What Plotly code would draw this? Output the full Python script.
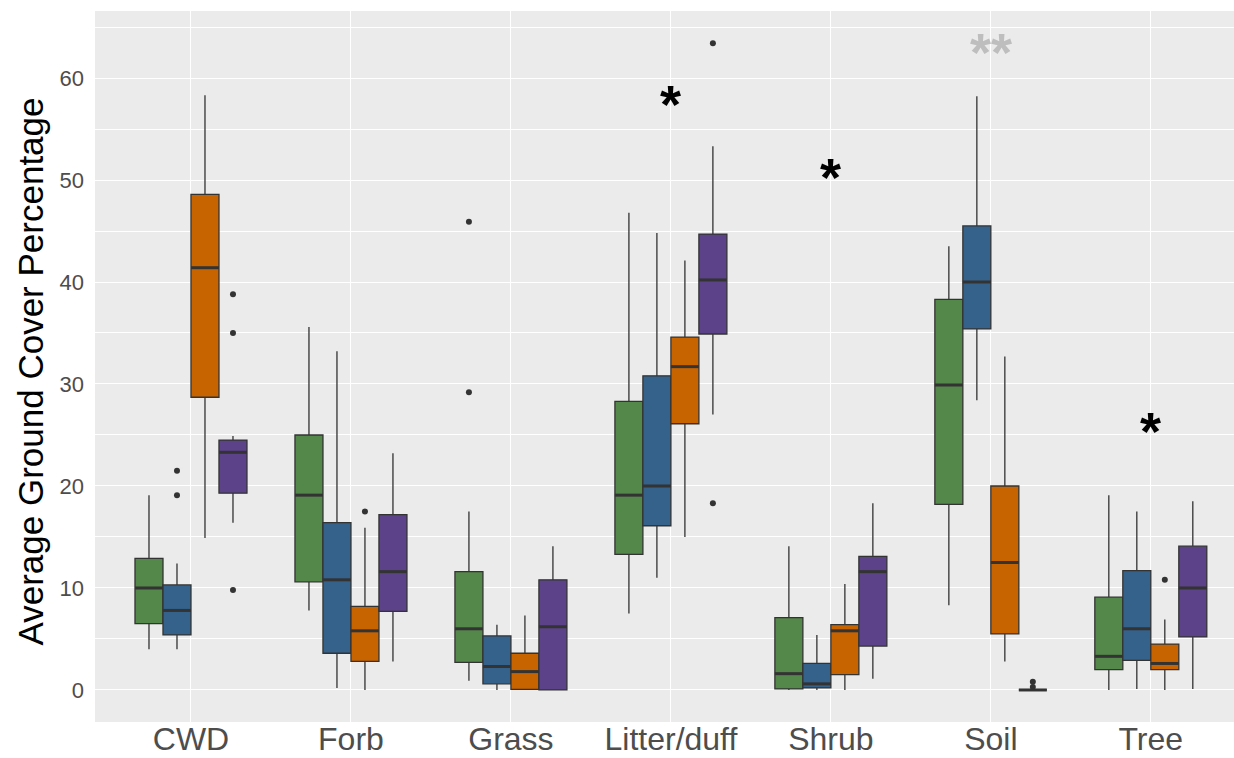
import plotly.graph_objects as go

categories = ["CWD", "Forb", "Grass", "Litter/duff", "Shrub", "Soil", "Tree"]
group_names = ["Group 1", "Group 2", "Group 3", "Group 4"]
group_colors = ["#54874A", "#34628B", "#C86400", "#5B4289"]

# box statistics per group (one value per category)
green_lower = [4.0, 7.8, 0.9, 7.5, 0.0, 8.3, 0.0]
green_q1 = [6.5, 10.6, 2.7, 13.3, 0.1, 18.2, 2.0]
green_median = [10.0, 19.1, 6.0, 19.1, 1.6, 29.9, 3.3]
green_q3 = [12.9, 25.0, 11.6, 28.3, 7.1, 38.3, 9.1]
green_upper = [19.1, 35.6, 17.5, 46.8, 14.1, 43.5, 19.1]
green_outliers = [[], [], [45.9, 29.2], [], [], [], []]

blue_lower = [4.0, 0.2, 0.0, 11.0, 0.0, 28.4, 0.1]
blue_q1 = [5.4, 3.6, 0.6, 16.1, 0.2, 35.4, 2.9]
blue_median = [7.8, 10.8, 2.3, 20.0, 0.6, 40.0, 6.0]
blue_q3 = [10.3, 16.4, 5.3, 30.8, 2.6, 45.5, 11.7]
blue_upper = [12.4, 33.2, 6.4, 44.8, 5.4, 58.2, 17.5]
blue_outliers = [[21.5, 19.1], [], [], [], [], [], []]

orange_lower = [14.9, 0.0, 0.0, 15.0, 0.0, 2.8, 0.0]
orange_q1 = [28.7, 2.8, 0.05, 26.1, 1.5, 5.5, 2.0]
orange_median = [41.4, 5.8, 1.8, 31.7, 5.8, 12.5, 2.6]
orange_q3 = [48.6, 8.2, 3.6, 34.6, 6.4, 20.0, 4.5]
orange_upper = [58.3, 15.9, 7.3, 42.1, 10.4, 32.7, 6.9]
orange_outliers = [[], [17.5], [], [], [], [], [10.8]]

purple_lower = [16.4, 2.8, 0.0, 27.0, 1.1, 0.0, 0.1]
purple_q1 = [19.3, 7.7, 0.0, 34.9, 4.3, 0.0, 5.2]
purple_median = [23.3, 11.6, 6.2, 40.2, 11.6, 0.0, 10.0]
purple_q3 = [24.5, 17.2, 10.8, 44.7, 13.1, 0.0, 14.1]
purple_upper = [24.9, 23.2, 14.1, 53.3, 18.3, 0.0, 18.5]
purple_outliers = [[38.8, 35.0, 9.8], [], [], [63.4, 18.3], [], [0.8, 0.3], []]

# significance labels
sig_categories = ["Litter/duff", "Shrub", "Soil", "Tree"]
sig_labels = ["*", "*", "**", "*"]
sig_y = [58.1, 51.0, 63.2, 26.1]
sig_colors = ["black", "black", "#BEBEBE", "black"]

y_ticks = [0, 10, 20, 30, 40, 50, 60]

groups = [
    (green_lower, green_q1, green_median, green_q3, green_upper, green_outliers),
    (blue_lower, blue_q1, blue_median, blue_q3, blue_upper, blue_outliers),
    (orange_lower, orange_q1, orange_median, orange_q3, orange_upper, orange_outliers),
    (purple_lower, purple_q1, purple_median, purple_q3, purple_upper, purple_outliers),
]

dodge = 0.7
n_groups = len(groups)
box_w = dodge / n_groups
line_col = "#333333"

fig = go.Figure()
for gi, (lo, q1, med, q3, up, outl) in enumerate(groups):
    offset = -dodge / 2 + box_w * (gi + 0.5)
    xs = [ci + offset for ci in range(len(categories))]
    fig.add_trace(go.Box(
        x=xs, q1=q1, median=med, q3=q3, lowerfence=lo, upperfence=up,
        width=box_w, fillcolor=group_colors[gi],
        line=dict(color=line_col, width=1.3), whiskerwidth=0,
        boxpoints=False, name=group_names[gi], showlegend=False,
        hoverinfo="skip",
    ))
    # thicker median lines (ggplot style)
    mx, my = [], []
    for x0, m in zip(xs, med):
        mx += [x0 - box_w / 2, x0 + box_w / 2, None]
        my += [m, m, None]
    fig.add_trace(go.Scatter(x=mx, y=my, mode="lines",
                             line=dict(color=line_col, width=3),
                             showlegend=False, hoverinfo="skip"))
    ox, oy = [], []
    for x0, vals in zip(xs, outl):
        for v in vals:
            ox.append(x0)
            oy.append(v)
    fig.add_trace(go.Scatter(x=ox, y=oy, mode="markers",
                             marker=dict(color=line_col, size=6),
                             showlegend=False, hoverinfo="skip"))

for cat, lab, yv, col in zip(sig_categories, sig_labels, sig_y, sig_colors):
    fig.add_annotation(x=categories.index(cat), y=yv, text="<b>" + lab + "</b>",
                       showarrow=False,
                       font=dict(size=54, color=col, family="Liberation Sans"),
                       xanchor="center", yanchor="middle", yshift=-7)

fig.add_annotation(xref="paper", yref="paper", x=0, y=0.5,
                   text="Average Ground Cover Percentage", textangle=-90,
                   showarrow=False, xanchor="center", yanchor="middle",
                   xshift=-65, yshift=-5,
                   font=dict(size=35, color="black", family="Liberation Sans, Arial"))

fig.update_layout(
    width=1234, height=758,
    margin=dict(l=95, r=0, t=11, b=36, autoexpand=False),
    paper_bgcolor="white", plot_bgcolor="#EBEBEB",
    boxmode="overlay", showlegend=False,
    font=dict(family="Liberation Sans, Arial, sans-serif"),
)
fig.update_xaxes(
    range=[-0.6, 6.52], tickmode="array", automargin=False,
    tickvals=list(range(len(categories))), ticktext=categories,
    showgrid=True, gridcolor="white", gridwidth=1.4, zeroline=False,
    tickfont=dict(size=32, color="#4D4D4D"), ticks="", ticklabelstandoff=-5,
)
fig.update_yaxes(
    range=[-3.14, 66.57], tickmode="array", tickvals=y_ticks, automargin=False,
    showgrid=True, gridcolor="white", gridwidth=1.4, zeroline=False,
    minor=dict(dtick=5, tick0=5, showgrid=True, gridcolor="white", gridwidth=0.6),
    tickfont=dict(size=22, color="#4D4D4D"), ticks="", ticklabelstandoff=10,
)

fig.write_html("out.html")
